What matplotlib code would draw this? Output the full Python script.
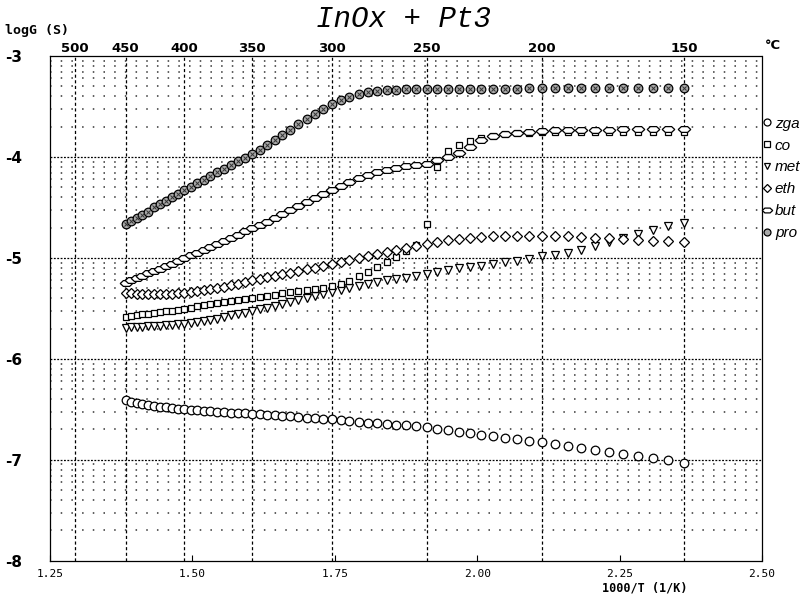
import numpy as np
import matplotlib
matplotlib.use("Agg")
from matplotlib import pyplot as plt
from matplotlib.markers import MarkerStyle
from matplotlib.transforms import Affine2D
from matplotlib.lines import Line2D

# measurement temperatures, 450 -> 150 C in 5 C steps
temps = list(range(450, 145, -5))

pro = [-4.66, -4.63, -4.60, -4.57, -4.54, -4.50, -4.47, -4.44, -4.40, -4.37,
       -4.33, -4.30, -4.26, -4.23, -4.19, -4.15, -4.12, -4.08, -4.04, -4.01,
       -3.97, -3.93, -3.88, -3.83, -3.78, -3.73, -3.67, -3.62, -3.57, -3.52,
       -3.48, -3.44, -3.41, -3.38, -3.36, -3.35, -3.34, -3.34, -3.33, -3.33,
       -3.33, -3.33, -3.33, -3.33, -3.33, -3.33, -3.33, -3.33, -3.33, -3.32,
       -3.32, -3.32, -3.32, -3.32, -3.32, -3.32, -3.32, -3.32, -3.32, -3.32, -3.32]

but = [-5.25, -5.22, -5.20, -5.18, -5.15, -5.13, -5.11, -5.08, -5.06, -5.03,
       -5.00, -4.97, -4.95, -4.92, -4.89, -4.86, -4.83, -4.80, -4.77, -4.73,
       -4.70, -4.67, -4.64, -4.60, -4.56, -4.53, -4.49, -4.45, -4.41, -4.37,
       -4.33, -4.29, -4.25, -4.21, -4.18, -4.15, -4.13, -4.11, -4.09, -4.08,
       -4.07, -4.03, -4.00, -3.96, -3.90, -3.83, -3.79, -3.77, -3.76, -3.75,
       -3.74, -3.73, -3.73, -3.73, -3.73, -3.73, -3.72, -3.72, -3.72, -3.72, -3.72]

co = [-5.58, -5.575, -5.57, -5.56, -5.56, -5.55, -5.54, -5.53, -5.53, -5.52,
      -5.51, -5.50, -5.48, -5.47, -5.46, -5.45, -5.44, -5.43, -5.42, -5.41,
      -5.40, -5.39, -5.38, -5.37, -5.35, -5.34, -5.33, -5.32, -5.31, -5.30,
      -5.28, -5.26, -5.23, -5.18, -5.14, -5.09, -5.04, -4.99, -4.93, -4.87,
      -4.66, -4.10, -3.94, -3.88, -3.84, -3.81, -3.79, -3.77, -3.76, -3.76,
      -3.75, -3.75, -3.75, -3.75, -3.75, -3.75, -3.75, -3.75, -3.75, -3.75, -3.75]

met = [-5.69, -5.685, -5.68, -5.68, -5.675, -5.67, -5.67, -5.665, -5.66, -5.655,
       -5.65, -5.64, -5.63, -5.62, -5.61, -5.60, -5.58, -5.57, -5.56, -5.545,
       -5.53, -5.51, -5.495, -5.48, -5.46, -5.44, -5.42, -5.40, -5.38, -5.36,
       -5.34, -5.32, -5.30, -5.28, -5.26, -5.24, -5.22, -5.21, -5.20, -5.18,
       -5.16, -5.14, -5.12, -5.10, -5.09, -5.08, -5.06, -5.04, -5.03, -5.01,
       -4.98, -4.97, -4.95, -4.92, -4.88, -4.84, -4.80, -4.76, -4.72, -4.68, -4.65]

eth = [-5.35, -5.35, -5.355, -5.36, -5.36, -5.36, -5.36, -5.36, -5.355, -5.35,
       -5.345, -5.34, -5.33, -5.32, -5.31, -5.30, -5.29, -5.27, -5.26, -5.24,
       -5.22, -5.21, -5.19, -5.18, -5.16, -5.15, -5.13, -5.11, -5.10, -5.08,
       -5.06, -5.04, -5.02, -5.00, -4.98, -4.96, -4.94, -4.92, -4.90, -4.88,
       -4.86, -4.84, -4.82, -4.81, -4.80, -4.79, -4.78, -4.78, -4.78, -4.78,
       -4.785, -4.78, -4.78, -4.79, -4.80, -4.80, -4.81, -4.82, -4.83, -4.83, -4.84]

zga = [-6.41, -6.43, -6.44, -6.45, -6.46, -6.47, -6.475, -6.48, -6.49, -6.495,
       -6.50, -6.505, -6.51, -6.515, -6.52, -6.525, -6.53, -6.535, -6.54, -6.54,
       -6.545, -6.55, -6.555, -6.56, -6.565, -6.57, -6.58, -6.585, -6.59, -6.595,
       -6.60, -6.61, -6.615, -6.62, -6.63, -6.635, -6.64, -6.65, -6.655, -6.665,
       -6.67, -6.69, -6.70, -6.72, -6.73, -6.75, -6.76, -6.78, -6.79, -6.81,
       -6.82, -6.84, -6.86, -6.88, -6.90, -6.92, -6.94, -6.96, -6.98, -7.00, -7.03]

x_ticks = [1.25, 1.50, 1.75, 2.00, 2.25, 2.50]
y_ticks = [-3, -4, -5, -6, -7, -8]
c_ticks = [500, 450, 400, 350, 300, 250, 200, 150]


def c_to_inv(c):
    return 1000.0 / (np.asarray(c, dtype=float) + 273.15)


def inv_to_c(x):
    x = np.asarray(x, dtype=float)
    with np.errstate(divide="ignore"):
        return 1000.0 / x - 273.15


x = c_to_inv(temps)

fig = plt.figure(figsize=(8.08, 5.96), dpi=100)
ax = fig.add_axes([0.062, 0.059, 0.881, 0.847])
ax.set_xlim(1.25, 2.50)
ax.set_ylim(-8, -3)

# grid: dashed verticals at the C ticks, log-decade horizontals
for c in c_ticks:
    ax.axvline(c_to_inv(c), color="black", lw=0.9, ls=(0, (2.5, 2)), zorder=1)
for d in range(-8, -3):
    for k in range(2, 10):
        ax.axhline(d + np.log10(k), color="#333333", lw=1.1, ls=(0, (1, 6)), zorder=1)
    if d > -8:
        ax.axhline(d, color="black", lw=0.9, ls=(0, (1.5, 1.2)), zorder=1)

for s in ax.spines.values():
    s.set_linestyle((0, (1.5, 1.0)))
    s.set_linewidth(0.9)

ms_kw = dict(ls="none", mec="black", mew=0.9, zorder=3)
hexm = MarkerStyle("H", transform=Affine2D().scale(1.5, 0.8))

ax.plot(x, zga, marker="o", ms=6.2, mfc="white", **ms_kw)
ax.plot(x, met, marker="v", ms=5.5, mfc="white", **ms_kw)
ax.plot(x, co, marker="s", ms=4.6, mfc="white", **ms_kw)
ax.plot(x, eth, marker="D", ms=4.6, mfc="white", **ms_kw)
ax.plot(x, but, marker=hexm, ms=6.0, mfc="white", **ms_kw)
ax.plot(x, pro, marker="o", ms=6.2, mfc="#a8a8a8", **ms_kw)
ax.plot(x, pro, marker="x", ms=3.2, ls="none", mec="#333333", mew=0.7, zorder=4)

ax.set_xticks(x_ticks)
ax.set_xticklabels(["%.2f" % v for v in x_ticks], fontsize=8,
                   family="DejaVu Sans Mono")
ax.tick_params(axis="x", direction="in", length=4, width=0.8, pad=6)
ax.set_yticks(y_ticks)
ax.set_yticklabels(["-%d" % abs(v) for v in y_ticks], fontsize=11,
                   fontweight="bold", family="DejaVu Sans")
ax.tick_params(axis="y", length=0, pad=20)

top = ax.secondary_xaxis("top", functions=(inv_to_c, c_to_inv))
top.set_xticks(c_ticks)
top.set_xticklabels([str(c) for c in c_ticks], fontsize=9.5,
                    fontweight="bold", family="DejaVu Sans")
top.tick_params(length=0, pad=1)
top.spines["top"].set_visible(False)

fig.text(0.947, 0.912, "°C", fontsize=9.5, fontweight="bold", ha="left", va="bottom")
fig.text(0.006, 0.938, "logG (S)", fontsize=9.5, fontweight="bold",
         family="DejaVu Sans Mono", ha="left", va="bottom")
fig.text(0.50, 0.968, "InOx + Pt3", fontsize=21, style="italic",
         family="Liberation Mono", ha="center", va="center")
fig.text(0.745, 0.002, "1000/T (1/K)", fontsize=8.5, fontweight="bold",
         family="DejaVu Sans Mono", ha="left", va="bottom")

handles = [
    Line2D([], [], marker="o", ms=5, mfc="white", mec="black", ls="none", mew=0.9),
    Line2D([], [], marker="s", ms=4, mfc="white", mec="black", ls="none", mew=0.9),
    Line2D([], [], marker="v", ms=5, mfc="white", mec="black", ls="none", mew=0.9),
    Line2D([], [], marker="D", ms=4, mfc="white", mec="black", ls="none", mew=0.9),
    Line2D([], [], marker=hexm, ms=5, mfc="white", mec="black", ls="none", mew=0.9),
    Line2D([], [], marker="o", ms=5, mfc="#a8a8a8", mec="black", ls="none", mew=0.9),
]
labels = ["zga", "co", "met", "eth", "but", "pro"]
ax.legend(handles, labels, loc="upper left", bbox_to_anchor=(1.0, 0.88),
          frameon=False, handlelength=0.6, handletextpad=0.25,
          labelspacing=0.52, borderaxespad=0, borderpad=0,
          prop=dict(family="Liberation Sans", style="italic", size=11))

fig.savefig("out.png", dpi=100)
